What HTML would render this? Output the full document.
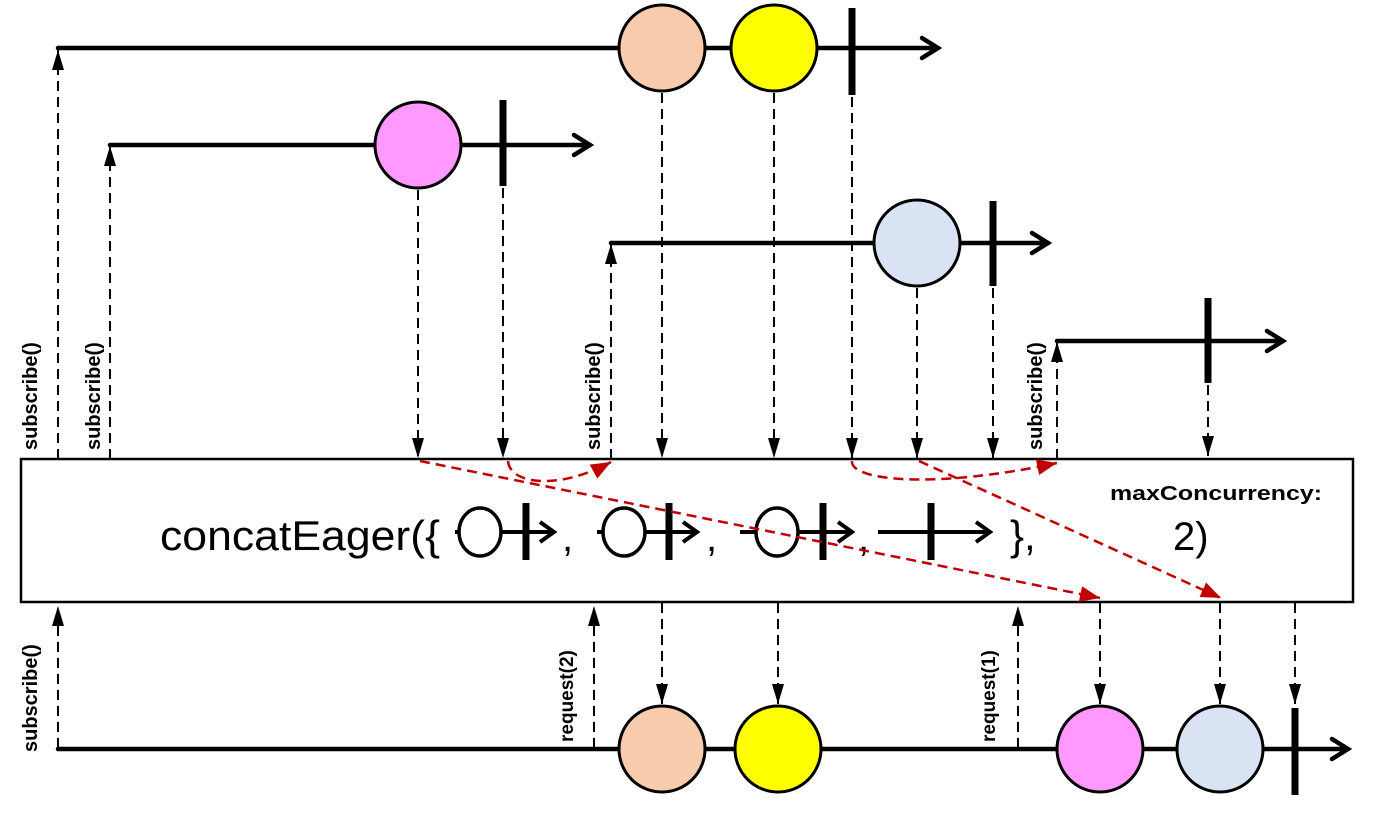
<!DOCTYPE html>
<html><head><meta charset="utf-8"><style>
html,body{margin:0;padding:0;background:#fff;}
svg{display:block;}
text{font-family:"Liberation Sans",sans-serif;}
</style></head><body>
<svg width="1387" height="813" viewBox="0 0 1387 813" xmlns="http://www.w3.org/2000/svg">
<defs>
<marker id="a" viewBox="0 0 20 12" refX="20" refY="6" markerWidth="20" markerHeight="12" markerUnits="userSpaceOnUse" orient="auto"><path d="M0,0L20,6L0,12z" fill="#000"/></marker>
<marker id="r" viewBox="0 0 20 16" refX="20" refY="8" markerWidth="20" markerHeight="16" markerUnits="userSpaceOnUse" orient="auto"><path d="M0,0L20,8L0,16z" fill="#c00000"/></marker>
</defs>
<g stroke="#000" stroke-width="4.5" fill="none" stroke-linecap="round">
<line x1="58" y1="48" x2="938" y2="48"/><path d="M922,38L938,48L922,58"/>
<line x1="110" y1="145" x2="590" y2="145"/><path d="M574,135L590,145L574,155"/>
<line x1="611" y1="243" x2="1048" y2="243"/><path d="M1032,233L1048,243L1032,253"/>
<line x1="1057" y1="341" x2="1283" y2="341"/><path d="M1267,331L1283,341L1267,351"/>
<line x1="58" y1="749" x2="1348" y2="749"/><path d="M1332,739L1348,749L1332,759"/>
</g>
<g stroke="#000" stroke-width="3">
<circle cx="662" cy="48" r="43" fill="#f8cbad"/>
<circle cx="774" cy="48" r="43" fill="#ffff00"/>
<circle cx="418" cy="145" r="43" fill="#ff99ff"/>
<circle cx="917" cy="243" r="43" fill="#dae3f3"/>
<circle cx="662" cy="749" r="43" fill="#f8cbad"/>
<circle cx="778" cy="749" r="43" fill="#ffff00"/>
<circle cx="1100" cy="749" r="43" fill="#ff99ff"/>
<circle cx="1220" cy="749" r="43" fill="#dae3f3"/>
</g>
<g stroke="#000" stroke-width="7">
<line x1="852" y1="8" x2="852" y2="95"/>
<line x1="503" y1="100" x2="503" y2="186"/>
<line x1="993" y1="201" x2="993" y2="286"/>
<line x1="1208" y1="298" x2="1208" y2="383"/>
<line x1="1295" y1="708" x2="1295" y2="795"/>
</g>
<rect x="21" y="459" width="1332" height="143" fill="#fff" stroke="#000" stroke-width="2.5"/>
<g stroke="#000" stroke-width="2" stroke-dasharray="10,6" fill="none">
<line x1="418" y1="190" x2="418" y2="458" marker-end="url(#a)"/>
<line x1="503" y1="188" x2="503" y2="458" marker-end="url(#a)"/>
<line x1="662" y1="93" x2="662" y2="458" marker-end="url(#a)"/>
<line x1="774" y1="93" x2="774" y2="458" marker-end="url(#a)"/>
<line x1="852" y1="97" x2="852" y2="458" marker-end="url(#a)"/>
<line x1="917" y1="288" x2="917" y2="458" marker-end="url(#a)"/>
<line x1="993" y1="288" x2="993" y2="458" marker-end="url(#a)"/>
<line x1="1208" y1="385" x2="1208" y2="456" marker-end="url(#a)"/>
<line x1="58" y1="459" x2="58" y2="50" marker-end="url(#a)"/>
<line x1="110" y1="459" x2="110" y2="146" marker-end="url(#a)"/>
<line x1="611" y1="459" x2="611" y2="244" marker-end="url(#a)"/>
<line x1="1057" y1="459" x2="1057" y2="342" marker-end="url(#a)"/>
<line x1="58" y1="748" x2="58" y2="606" marker-end="url(#a)"/>
<line x1="594" y1="748" x2="594" y2="606" marker-end="url(#a)"/>
<line x1="1018" y1="748" x2="1018" y2="606" marker-end="url(#a)"/>
<line x1="662" y1="603" x2="662" y2="704" marker-end="url(#a)"/>
<line x1="778" y1="603" x2="778" y2="704" marker-end="url(#a)"/>
<line x1="1100" y1="603" x2="1100" y2="704" marker-end="url(#a)"/>
<line x1="1220" y1="603" x2="1220" y2="704" marker-end="url(#a)"/>
<line x1="1295" y1="603" x2="1295" y2="704" marker-end="url(#a)"/>
</g>
<g stroke="#000" fill="none">
<line x1="455" y1="532" x2="553" y2="532" stroke-width="4"/><path d="M540,522L554,532L540,542" stroke-width="4"/>
<ellipse cx="480" cy="532" rx="21" ry="24" fill="#fff" stroke-width="3.5"/>
<line x1="526" y1="503" x2="526" y2="560" stroke-width="7"/>
<line x1="597" y1="532" x2="697" y2="532" stroke-width="4"/><path d="M683,522L697,532L683,542" stroke-width="4"/>
<ellipse cx="624" cy="532" rx="21" ry="24" fill="#fff" stroke-width="3.5"/>
<line x1="669" y1="503" x2="669" y2="560" stroke-width="7"/>
<line x1="740" y1="532" x2="852" y2="532" stroke-width="4"/><path d="M838,522L852,532L838,542" stroke-width="4"/>
<ellipse cx="777" cy="532" rx="21" ry="24" fill="#fff" stroke-width="3.5"/>
<line x1="823" y1="503" x2="823" y2="560" stroke-width="7"/>
<line x1="878" y1="532" x2="990" y2="532" stroke-width="4"/><path d="M976,522L990,532L976,542" stroke-width="4"/>
<line x1="931" y1="503" x2="931" y2="560" stroke-width="7"/>
</g>
<text x="160" y="550" font-size="42" textLength="280" lengthAdjust="spacingAndGlyphs">concatEager({</text>
<text x="562" y="551" font-size="40">,</text>
<text x="706" y="551" font-size="40">,</text>
<text x="858" y="551" font-size="40">,</text>
<text x="1010" y="550" font-size="42">},</text>
<text x="1110" y="500" font-size="20" font-weight="bold" textLength="212" lengthAdjust="spacingAndGlyphs">maxConcurrency:</text>
<text x="1173" y="550" font-size="40">2)</text>
<g stroke="#c00000" stroke-width="2.5" stroke-dasharray="10,6" fill="none">
<path d="M420,461L1100,598" marker-end="url(#r)"/>
<path d="M508,461C510,485 560,490 611,462" marker-end="url(#r)"/>
<path d="M852,461C850,480 930,490 1057,463" marker-end="url(#r)"/>
<path d="M919,461L1221,598" marker-end="url(#r)"/>
</g>
<g font-size="20" font-weight="bold">
<text transform="translate(37,450) rotate(-90)">subscribe()</text>
<text transform="translate(100,450) rotate(-90)">subscribe()</text>
<text transform="translate(600,450) rotate(-90)">subscribe()</text>
<text transform="translate(1042,450) rotate(-90)">subscribe()</text>
<text transform="translate(37,752) rotate(-90)">subscribe()</text>
<text transform="translate(573,742) rotate(-90)" font-size="19">request(2)</text>
<text transform="translate(995,742) rotate(-90)" font-size="19">request(1)</text>
</g>
</svg>
</body></html>
